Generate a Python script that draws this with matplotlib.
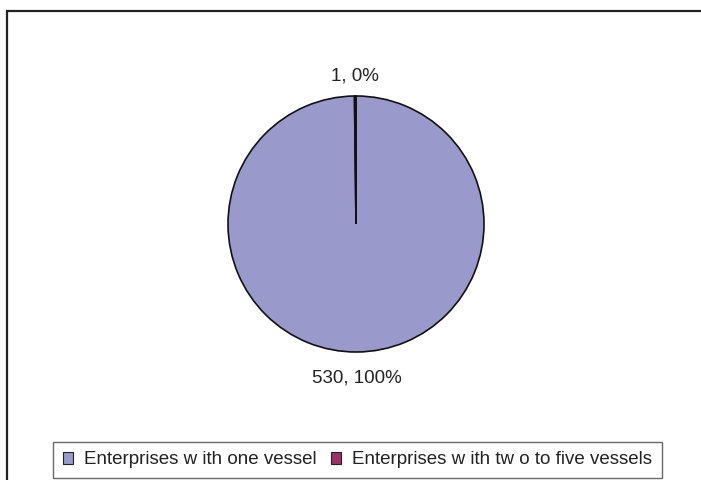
import matplotlib
matplotlib.use("Agg")
import matplotlib.pyplot as plt
import numpy as np
from matplotlib.patches import Rectangle

categories = ["Enterprises w ith one vessel", "Enterprises w ith tw o to five vessels"]
values = [530, 1]
labels = ["530, 100%", "1, 0%"]
colors = ["#9999CC", "#993366"]

plt.rcParams['font.family'] = ['Liberation Sans', 'DejaVu Sans']

W, H = 701, 480
fig = plt.figure(figsize=(W / 100, H / 100), dpi=100)

# outer chart border
fig.patches.append(Rectangle((7 / W, -0.1), 1.2, 1 - 11 / H + 0.1, transform=fig.transFigure,
                             fill=False, edgecolor="#222222", linewidth=1.6))

cx, cy, r = 356, 224, 128
ax = fig.add_axes([(cx - r) / W, (H - cy - r) / H, 2 * r / W, 2 * r / H])
wedges, _ = ax.pie(values, colors=colors, startangle=90, counterclock=False,
                   wedgeprops=dict(edgecolor="#111111", linewidth=1.2))
ax.set_xlim(-1, 1)
ax.set_ylim(-1, 1)
ax.set_aspect('equal')
ax.axis('off')

dists = [1.2, 1.16]
for w, lab, d in zip(wedges, labels, dists):
    ang = np.deg2rad((w.theta1 + w.theta2) / 2)
    ax.text(d * np.cos(ang), d * np.sin(ang), lab, ha='center', va='center',
            fontsize=13.5, color="#222222", clip_on=False)

leg = fig.legend(wedges, categories, loc='center', bbox_to_anchor=(357.5 / W, 1 - 460 / H),
                 ncol=2, frameon=True, fancybox=False, fontsize=13.5,
                 handlelength=0.55, handleheight=0.55, handletextpad=0.6,
                 columnspacing=0.75, borderpad=0.5, borderaxespad=0)
leg.get_frame().set_edgecolor("#444444")
leg.get_frame().set_linewidth(1.0)
for t in leg.get_texts():
    t.set_color("#222222")
for h in leg.legend_handles:
    h.set_edgecolor("#222222")
    h.set_linewidth(0.8)

fig.savefig("out.png", dpi=100)
